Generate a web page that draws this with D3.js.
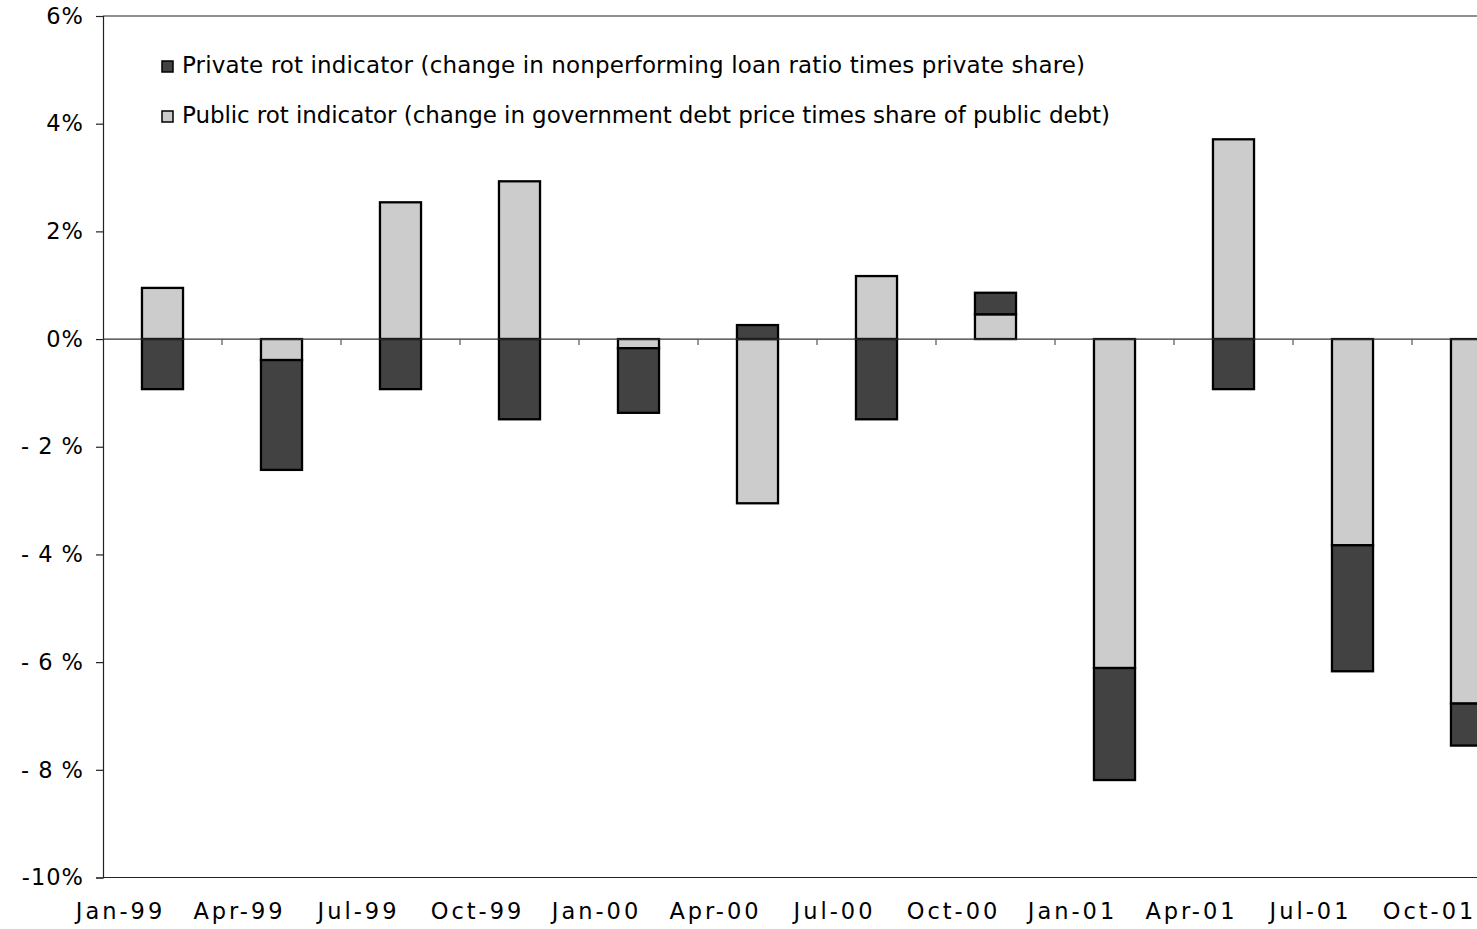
<!DOCTYPE html>
<html><head><meta charset="utf-8">
<script src="https://cdn.jsdelivr.net/npm/d3@7"></script>
<style>body{margin:0;background:#fff}svg{display:block}text{font-family:"DejaVu Sans",Verdana,sans-serif;fill:#000}</style>
</head><body>
<svg id="c" width="1477" height="929"></svg>
<script>
const categories = ["Jan-99","Apr-99","Jul-99","Oct-99","Jan-00","Apr-00","Jul-00","Oct-00","Jan-01","Apr-01","Jul-01","Oct-01"];
const publicRot  = [0.95,-0.39,2.54,2.93,-0.17,-3.05,1.17,0.46,-6.11,3.71,-3.83,-6.77];
const privateRot = [-0.93,-2.04,-0.93,-1.49,-1.20,0.26,-1.49,0.40,-2.08,-0.93,-2.34,-0.78];
const yTicks = [6,4,2,0,-2,-4,-6,-8,-10];
const yTickLabels = ["6%","4%","2%","0%","- 2 %","- 4 %","- 6 %","- 8 %","-10%"];
const seriesNames = ["Private rot indicator (change in nonperforming loan ratio times private share)",
                     "Public rot indicator (change in government debt price times share of public debt)"];
const colors = {private:"#424242", public:"#cccccc"};

const svg = d3.select("#c");
const mLeft = 103, mTop = 16, mBottom = 877.5, step = 119;
const x = d3.scaleBand().domain(categories).range([mLeft, mLeft + step*categories.length]).paddingInner(0.655).paddingOuter(0.3275);
const y = d3.scaleLinear().domain([-10,6]).range([mBottom, mTop]);

const rows = categories.map((c,i)=>({cat:c, public:publicRot[i], private:privateRot[i]}));
const stack = d3.stack().keys(["public","private"]).offset(d3.stackOffsetDiverging);
const layers = stack(rows);

svg.append("line").attr("x1",mLeft).attr("x2",1477).attr("y1",mTop).attr("y2",mTop).attr("stroke","#222").attr("stroke-width",1.2);
svg.append("line").attr("x1",mLeft).attr("x2",1477).attr("y1",mBottom).attr("y2",mBottom).attr("stroke","#222").attr("stroke-width",1.2);

const yAxis = d3.axisLeft(y).tickValues(yTicks).tickSize(7).tickFormat((d,i)=>yTickLabels[i]);
const gy = svg.append("g").attr("transform",`translate(${mLeft},0)`).call(yAxis);
gy.select(".domain").attr("stroke","#222").attr("stroke-width",1.2);
gy.selectAll(".tick line").attr("stroke","#222").attr("stroke-width",1.2);
gy.selectAll(".tick text").attr("x",-19).attr("font-size",22.5).attr("font-family","DejaVu Sans").attr("letter-spacing",1).attr("fill","#000");

svg.append("g").selectAll("g").data(layers).join("g")
  .attr("fill", d => colors[d.key])
  .selectAll("rect").data(d=>d).join("rect")
  .attr("x", d=>x(d.data.cat))
  .attr("width", x.bandwidth())
  .attr("y", d=>y(Math.max(d[0],d[1])))
  .attr("height", d=>Math.abs(y(d[0])-y(d[1])))
  .attr("stroke","#000").attr("stroke-width",2.3);

const boundaries = d3.range(1, categories.length+1).map(i => mLeft + i*step);
const gx = svg.append("g");
gx.append("line").attr("x1",mLeft).attr("x2",1477).attr("y1",y(0)).attr("y2",y(0)).attr("stroke","#333").attr("stroke-width",1.2);
gx.selectAll("line.t").data(boundaries.filter(b=>b<1477)).join("line").attr("class","t")
  .attr("x1",d=>d).attr("x2",d=>d).attr("y1",y(0)).attr("y2",y(0)+6).attr("stroke","#555").attr("stroke-width",1.2);

const xAxis = d3.axisBottom(x).tickSize(0).tickPadding(0);
const gxl = svg.append("g").attr("transform",`translate(-42,${mBottom+26})`).call(xAxis);
gxl.select(".domain").remove();
gxl.selectAll(".tick text").attr("font-size",22.5).attr("font-family","DejaVu Sans").attr("letter-spacing",3).attr("fill","#000");

const leg = svg.append("g");
const legItems = [{name:seriesNames[0], key:"private", len:903},{name:seriesNames[1], key:"public", len:928}];
legItems.forEach((it,i)=>{
  const by = 73 + i*50;
  leg.append("rect").attr("x",162).attr("y",by-12).attr("width",11).attr("height",11)
    .attr("fill",colors[it.key]).attr("stroke","#000").attr("stroke-width",1.5);
  leg.append("text").attr("x",182).attr("y",by).attr("font-size",23)
    .attr("textLength",it.len).attr("lengthAdjust","spacing").text(it.name);
});
</script>
</body></html>
